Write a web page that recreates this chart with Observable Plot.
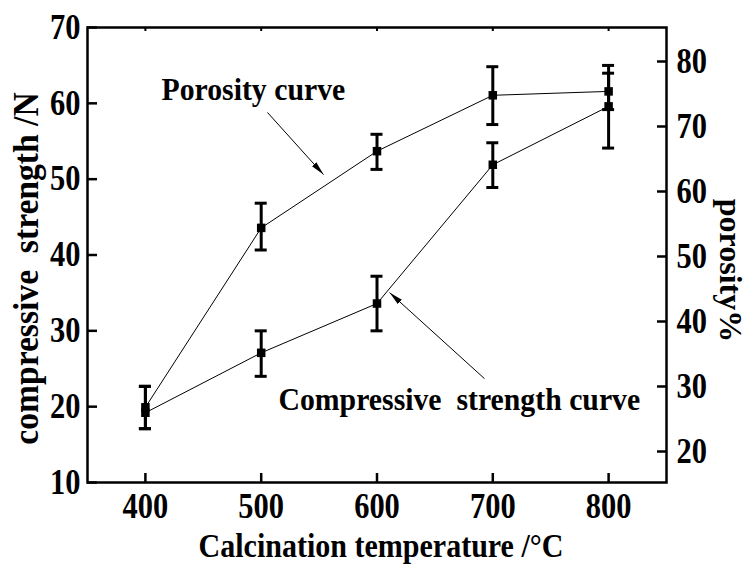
<!DOCTYPE html>
<html>
<head>
<meta charset="utf-8">
<script src="https://cdn.jsdelivr.net/npm/d3@7"></script>
<script src="https://cdn.jsdelivr.net/npm/@observablehq/plot@0.6"></script>
<style>
  html, body { margin: 0; padding: 0; background: #fff; }
  svg text { white-space: pre; }
</style>
</head>
<body>
<div id="chart"></div>
<script>
// ---- data ----
const temps = [400, 500, 600, 700, 800];
const strength = [19.2, 27.1, 33.6, 51.9, 59.6];          // N (left axis)
const strengthLow = [17.1, 24.0, 30.0, 48.9, 54.1];
const strengthHigh = [22.7, 30.0, 37.2, 54.8, 65.0];
const porosity = [26.8, 54.4, 66.2, 74.8, 75.4];          // % (right axis)
const porosityLow = [23.5, 51.0, 63.4, 70.3, 72.6];
const porosityHigh = [30.0, 58.2, 68.8, 79.2, 78.2];

const xTicks = [400, 500, 600, 700, 800];
const strengthTicks = [10, 20, 30, 40, 50, 60, 70];
const porosityTicks = [20, 30, 40, 50, 60, 70, 80];
const xDomain = [350, 850];
const strengthDomain = [10, 70];
const porosityDomain = [15.23, 85.23];

const xTitle = "Calcination temperature /°C";
const yTitle = "compressive  strength /N";
const y2Title = "porosity%";

const annotationLabels = ["Porosity curve", "Compressive  strength curve"];
const annotationX = [413.9, 514.9];
const annotationY = [60.4, 19.5];
const arrowFromX = [505.4, 692.8];
const arrowFromY = [58.8, 23.7];
const arrowToX = [553.8, 610.8];
const arrowToY = [50.6, 35.05];

// ---- build tables ----
const toStrength = d3.scaleLinear(porosityDomain, strengthDomain);
const rows = [
  ...temps.map((t, i) => ({series: "strength", temp: t, value: strength[i], lo: strengthLow[i], hi: strengthHigh[i]})),
  ...temps.map((t, i) => ({series: "porosity", temp: t, value: toStrength(porosity[i]), lo: toStrength(porosityLow[i]), hi: toStrength(porosityHigh[i])}))
];
const notes = annotationLabels.map((label, i) => ({label, x: annotationX[i], y: annotationY[i]}));
const arrows = arrowFromX.map((_, i) => ({x1: arrowFromX[i], y1: arrowFromY[i], x2: arrowToX[i], y2: arrowToY[i]}));

const chart = Plot.plot({
  width: 748,
  height: 565,
  marginLeft: 87,
  marginRight: 82,
  marginTop: 27,
  marginBottom: 83,
  style: "font-family: 'Liberation Serif', 'Times New Roman', serif; font-weight: bold; font-size: 30px; color: black; background: white;",
  x: {domain: xDomain},
  y: {domain: strengthDomain},
  marks: [
    Plot.axisX(xTicks, {anchor: "bottom", tickSize: -9, tickPadding: 20, strokeWidth: 2.5, fontSize: 35, label: null}),
    Plot.axisX(xTicks, {anchor: "top", tickSize: -3, tickFormat: () => "", strokeWidth: 2, label: null}),
    Plot.axisY(strengthTicks, {anchor: "left", tickSize: -10, tickPadding: 17, strokeWidth: 2.5, fontSize: 35, label: null}),
    Plot.axisY(porosityTicks.map(toStrength), {anchor: "right", tickSize: -10, tickPadding: 20, strokeWidth: 2.5, fontSize: 35, label: null,
      tickFormat: d => String(Math.round(toStrength.invert(d)))}),
    Plot.frame({strokeWidth: 2.5}),
    Plot.line(rows, {x: "temp", y: "value", z: "series", stroke: "black", strokeWidth: 1}),
    Plot.ruleX(rows, {x: "temp", y1: "lo", y2: "hi", stroke: "black", strokeWidth: 3}),
    Plot.ruleY(rows, {x1: "temp", x2: "temp", y: "lo", insetLeft: -6, insetRight: -6, stroke: "black", strokeWidth: 3}),
    Plot.ruleY(rows, {x1: "temp", x2: "temp", y: "hi", insetLeft: -6, insetRight: -6, stroke: "black", strokeWidth: 3}),
    Plot.dot(rows, {x: "temp", y: "value", symbol: "square", r: 4.8, fill: "black", stroke: null}),
    Plot.text(notes, {x: "x", y: "y", text: "label", textAnchor: "start", lineAnchor: "bottom", fontSize: 31, fill: "black", ariaDescription: "annotation"}),
    Plot.link(arrows, {x1: "x1", y1: "y1", x2: "x2", y2: "y2", stroke: "black", strokeWidth: 1}),
    Plot.text([xTitle], {text: d => d, frameAnchor: "bottom", textAnchor: "middle", dx: 4, dy: 74, lineAnchor: "bottom", fontSize: 34.5, fill: "black", ariaDescription: "x-title"}),
    Plot.text([yTitle], {text: d => d, frameAnchor: "left", textAnchor: "middle", rotate: -90, dx: -50, dy: 13.5, lineAnchor: "bottom", fontSize: 35, fill: "black", ariaDescription: "y-title"}),
    Plot.text([y2Title], {text: d => d, frameAnchor: "right", textAnchor: "middle", rotate: 90, dx: 53, dy: 15.5, lineAnchor: "bottom", fontSize: 32, fill: "black", ariaDescription: "y2-title"})
  ]
});

document.getElementById("chart").appendChild(chart);
const svg = d3.select(chart);

// narrow the serif glyphs the way the reference's condensed Times is drawn
function condense(selector, factor) {
  svg.selectAll(selector).each(function() {
    const len = this.getComputedTextLength();
    if (len > 0) {
      this.setAttribute("textLength", len * factor);
      this.setAttribute("lengthAdjust", "spacingAndGlyphs");
    }
  });
}
condense('g[aria-label$="tick label"] text', 0.87);
condense('g[aria-description="annotation"] text', 0.96);
condense('g[aria-description="x-title"] text', 0.87);
condense('g[aria-description="y-title"] text', 0.96);

// filled arrowheads for the annotation arrows
svg.insert("defs", ":first-child")
  .append("marker")
  .attr("id", "arrowhead")
  .attr("viewBox", "0 0 14 6")
  .attr("refX", 14).attr("refY", 3)
  .attr("markerWidth", 14).attr("markerHeight", 6)
  .attr("markerUnits", "userSpaceOnUse")
  .attr("orient", "auto")
  .append("path").attr("d", "M0,0L14,3L0,6Z").attr("fill", "black");
svg.selectAll('g[aria-label="link"] path').attr("marker-end", "url(#arrowhead)");
</script>
</body>
</html>
